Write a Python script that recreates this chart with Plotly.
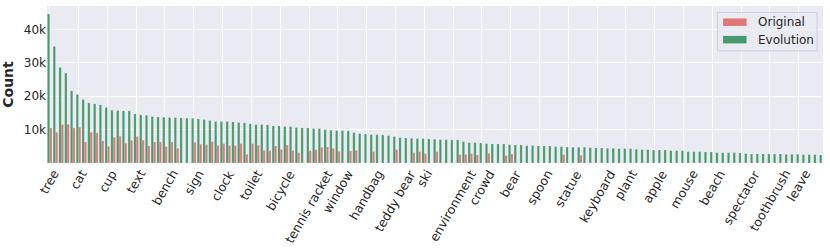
import plotly.graph_objects as go

# Category labels shown on the axis (every 5th of 135 categories)
tick_labels = ["tree", "cat", "cup", "text", "bench", "sign", "clock", "toilet", "bicycle",
               "tennis racket", "window", "handbag", "teddy bear", "ski", "environment", "crowd",
               "bear", "spoon", "statue", "keyboard", "plant", "apple", "mouse", "beach",
               "spectator", "toothbrush", "leave"]
n_categories = 135
category_index = list(range(n_categories))
tick_index = list(range(0, n_categories, 5))

# Evolution counts (thousands), sorted descending
evolution_k = [
    44.6, 34.9, 28.6, 26.9, 21.6, 20.5, 19.0, 18.0, 17.7, 17.4,
    16.6, 15.8, 15.7, 15.6, 15.6, 14.7, 14.4, 14.3, 13.9, 13.8,
    13.7, 13.6, 13.6, 13.5, 13.4, 13.4, 13.2, 13.0, 12.7, 12.4,
    12.4, 12.4, 12.3, 12.1, 12.0, 11.7, 11.5, 11.5, 11.4, 11.1,
    11.1, 10.9, 10.9, 10.6, 10.5, 10.5, 10.3, 10.3, 10.0, 9.8,
    9.7, 9.7, 9.6, 9.1, 8.8, 8.7, 8.5, 8.5, 8.4, 8.2,
    7.9, 7.6, 7.5, 7.4, 7.3, 7.3, 7.2, 7.1, 7.0, 7.0,
    6.9, 6.9, 6.4, 6.1, 6.1, 6.0, 5.8, 5.7, 5.7, 5.7,
    5.5, 5.4, 5.4, 5.2, 5.2, 5.1, 5.1, 5.1, 4.9, 4.9,
    4.8, 4.7, 4.7, 4.7, 4.6, 4.5, 4.5, 4.4, 4.4, 4.3,
    4.3, 4.3, 4.1, 4.0, 4.0, 3.9, 3.9, 3.9, 3.7, 3.7,
    3.7, 3.4, 3.4, 3.4, 3.3, 3.3, 3.1, 3.1, 3.1, 3.1,
    3.0, 2.8, 2.7, 2.7, 2.7, 2.7, 2.7, 2.7, 2.6, 2.6,
    2.6, 2.5, 2.5, 2.5, 2.4,
]

# Original counts (thousands); 0 where the category had no original count
original_k = [
    10.5, 9.2, 11.5, 11.6, 10.5, 10.7, 6.3, 9.2, 9.0, 6.6,
    5.0, 7.7, 8.0, 5.9, 6.8, 7.9, 6.8, 5.1, 6.3, 6.3,
    4.9, 6.3, 4.4, 0, 0, 6.2, 5.6, 5.5, 6.4, 5.2,
    5.8, 5.2, 5.2, 5.8, 2.6, 5.8, 5.3, 3.8, 3.7, 5.1,
    4.1, 5.4, 3.7, 3.1, 0, 3.7, 4.0, 4.7, 4.8, 4.4,
    3.5, 0, 3.6, 3.8, 0, 0, 3.4, 0, 0, 0,
    4.0, 0, 0, 3.1, 3.4, 2.8, 0, 3.4, 0, 0,
    0, 2.5, 2.5, 2.8, 2.4, 0, 2.9, 0, 0, 2.2,
    2.7, 0, 0, 0, 0, 0, 0, 0, 0, 2.5,
    0, 0, 2.3, 0, 0, 0, 0, 0, 0, 0,
    0, 0, 0, 0, 0, 0, 0, 0, 0, 0,
    0, 0, 0, 0, 0, 0, 0, 0, 0, 0,
    0, 0, 0, 0, 0, 0, 0, 0, 0, 0,
    0, 0, 0, 0, 0,
]

series_names = ["Original", "Evolution"]
y_ticks = [10000, 20000, 30000, 40000]
y_tick_text = ["10k", "20k", "30k", "40k"]

evolution = [v * 1000 for v in evolution_k]
original = [v * 1000 for v in original_k]

RED = "#e07676"
GREEN = "#47996d"
FONT = "DejaVu Sans"
TEXT = "#262626"

W, H = 830, 249
ML, MR, MT, MB = 46.5, 7, 6, 85.5
PW, PH = W - ML - MR, H - MT - MB


def px(xp):
    return (xp - ML) / PW


def py(yp):
    return (H - MB - yp) / PH


fig = go.Figure()
fig.add_trace(go.Bar(
    x=category_index, y=original, name=series_names[0],
    marker=dict(color=RED, line=dict(color="rgba(255,255,255,0.4)", width=0.4)),
    width=0.4, offset=0.0, showlegend=False,
))
fig.add_trace(go.Bar(
    x=category_index, y=evolution, name=series_names[1],
    marker=dict(color=GREEN, line=dict(color="rgba(255,255,255,0.4)", width=0.4)),
    width=0.4, offset=-0.4, showlegend=False,
))

# Legend drawn as a box with patches and labels (matplotlib-style)
shapes = [
    dict(type="rect", xref="paper", yref="paper",
         x0=px(717.5), x1=px(817), y0=py(51), y1=py(12.5),
         fillcolor="rgba(234,234,242,0.8)", line=dict(color="#cfcfd8", width=1), layer="above"),
    dict(type="rect", xref="paper", yref="paper",
         x0=px(723), x1=px(746.5), y0=py(26), y1=py(18.5),
         fillcolor=RED, line=dict(width=0), layer="above"),
    dict(type="rect", xref="paper", yref="paper",
         x0=px(723), x1=px(746.5), y0=py(43.5), y1=py(36),
         fillcolor=GREEN, line=dict(width=0), layer="above"),
]
annotations = [
    dict(xref="paper", yref="paper", x=px(756), y=py(22.3), text=series_names[0],
         showarrow=False, xanchor="left", yanchor="middle",
         font=dict(family=FONT, size=12, color=TEXT)),
    dict(xref="paper", yref="paper", x=px(756), y=py(39.8), text=series_names[1],
         showarrow=False, xanchor="left", yanchor="middle",
         font=dict(family=FONT, size=12, color=TEXT)),
]

# Category tick labels, centred under their ticks and rotated (matplotlib rotation=60 style)
for tv, tl in zip(tick_index, tick_labels):
    annotations.append(dict(
        xref="x", yref="paper", x=tv, y=0, text=tl, textangle=-60,
        showarrow=False, xanchor="center", yanchor="top", yshift=-3, borderpad=0,
        font=dict(family=FONT, size=12.5, color=TEXT),
    ))

fig.update_layout(
    width=W, height=H,
    margin=dict(l=ML, r=MR, t=MT, b=MB, autoexpand=False),
    paper_bgcolor="white",
    plot_bgcolor="#eaeaf2",
    barmode="overlay",
    font=dict(family=FONT, size=12, color=TEXT),
    showlegend=False,
    shapes=shapes,
    annotations=annotations,
    xaxis=dict(
        range=[-0.47, 134.2],
        tickmode="array", tickvals=tick_index, ticktext=tick_labels,
        showticklabels=False, automargin=False,
        showgrid=True, gridcolor="white", gridwidth=1,
        zeroline=False, showline=False, ticks="",
    ),
    yaxis=dict(
        range=[0, 47000], automargin=False,
        tickmode="array", tickvals=y_ticks, ticktext=y_tick_text,
        showgrid=True, gridcolor="white", gridwidth=1,
        zeroline=False, showline=False, ticks="",
        tickfont=dict(family=FONT, size=12, color=TEXT),
        title=dict(text="<b>Count</b>", font=dict(family=FONT, size=14, color=TEXT), standoff=8),
    ),
)

fig.write_html("out.html",
               config={"displayModeBar": False, "staticPlot": True},
               post_script="document.body.style.margin='0';document.body.style.overflow='hidden';")
